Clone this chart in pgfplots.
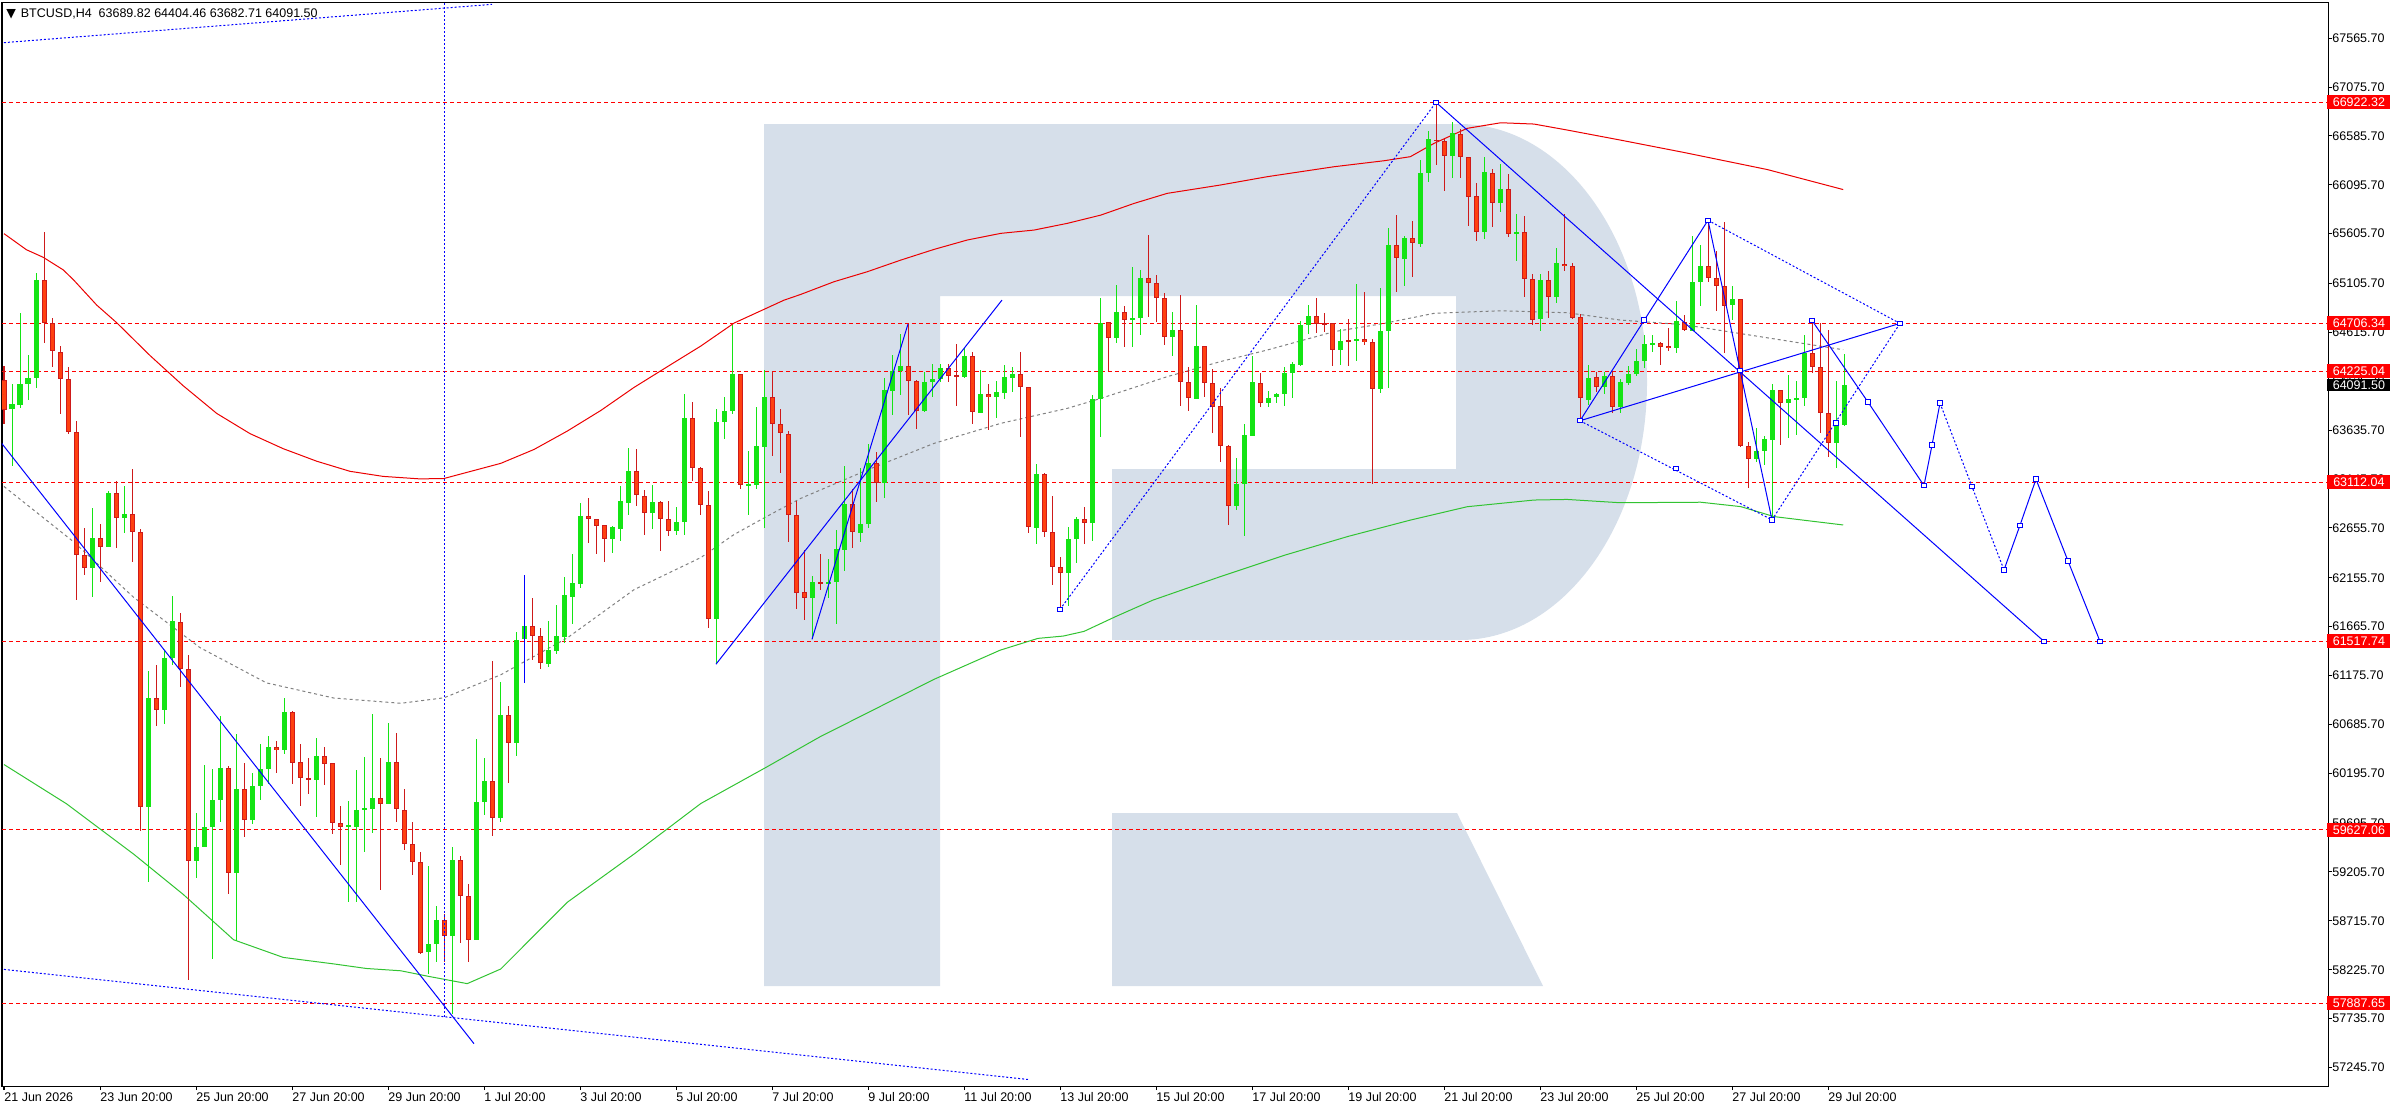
\documentclass[border=0pt]{standalone}
\usepackage{fontspec}
\setmainfont{Liberation Sans}
\newfontfamily\dejavu{DejaVu Sans}
\usepackage{pgfplots}
\usepackage{pgfplotstable}
\pgfplotsset{compat=1.18}
\definecolor{wm}{RGB}{214,223,234}
\definecolor{cred}{RGB}{206,26,26}
\definecolor{credfill}{RGB}{255,64,16}
\definecolor{cgreen}{RGB}{20,228,20}
\definecolor{mared}{RGB}{235,0,0}
\definecolor{magreen}{RGB}{50,195,50}
\definecolor{bl}{RGB}{0,0,255}
\newcommand\tf{\fontsize{6.25pt}{7pt}\selectfont}
\pgfplotsset{candle/.style={only marks, mark=*, mark options={draw=none, fill=none}, mark size=0pt}}

\pgfplotstableread{
i o h l c
0 64142 64283 63702 63839
1 63844 64096 63273 63894
2 63889 64813 63854 64096
3 64101 64394 63940 64157
4 64157 65217 64056 65142
5 65142 65621 64510 64712
6 64712 64763 64268 64425
7 64425 64485 63798 64147
8 64147 64268 63601 63617
9 63617 63728 61935 62389
10 62389 62652 62182 62253
11 62253 62859 61960 62556
12 62556 62692 62112 62465
13 62465 63021 62465 63010
14 63005 63122 62455 62753
15 62753 63071 62607 62793
16 62793 63248 62314 62617
17 62617 62642 59622 59854
18 59854 61218 59107 60950
19 60950 61278 60672 60834
20 60834 61430 60688 61354
21 61354 61970 61278 61718
22 61718 61799 61061 61243
23 61243 61379 58122 59319
24 59319 59799 59142 59460
25 59460 60278 59460 59662
26 59662 60243 58334 59925
27 59925 60773 59703 60253
28 60253 60268 58981 59193
29 59193 60587 58516 60041
30 60041 60294 59561 59723
31 59723 60203 59688 60066
32 60066 60486 59925 60243
33 60243 60571 60092 60460
34 60455 60521 60203 60430
35 60430 60950 60385 60814
36 60814 60824 60092 60304
37 60304 60486 59864 60152
38 60152 60344 59991 60132
39 60132 60546 59763 60369
40 60369 60460 60077 60294
41 60294 60294 59587 59698
42 59698 59864 59274 59662
43 59652 59915 58905 59672
44 59662 60233 58905 59829
45 59829 60354 59410 59849
46 59839 60789 59597 59950
47 59950 60344 59021 59890
48 59890 60698 59890 60304
49 60304 60597 59703 59839
50 59833 60040 59422 59487
51 59487 59708 59178 59307
52 59307 59409 58385 58395
53 58404 59270 58187 58487
54 58487 58865 58302 58726
55 58726 58786 58302 58565
56 58565 59455 57782 59330
57 59330 59362 58496 58962
58 58962 59086 58302 58524
59 58524 60538 58524 59906
60 59906 60344 59777 60123
61 60123 61321 59570 59745
62 59745 61114 59708 60782
63 60782 60874 60100 60501
64 60501 61612 60367 61538
65 61538 61710 61436 61676
66 61676 61957 61335 61575
67 61575 61653 61243 61298
68 61289 61727 61266 61437
69 61427 61888 61390 61575
70 61566 62169 61506 61980
71 61966 62391 61690 62100
72 62091 62902 62050 62773
73 62773 62958 62506 62746
74 62746 62746 62395 62681
75 62681 62690 62312 62547
76 62547 62681 62404 62663
77 62644 63073 62520 62925
78 62907 63455 62782 63225
79 63225 63446 62875 62981
80 62981 63036 62584 62805
81 62805 63087 62644 62912
82 62912 62930 62423 62741
83 62741 62930 62575 62626
84 62626 62865 62584 62718
85 62718 63995 62589 63755
86 63755 63916 63128 63257
87 63257 63266 62787 62888
88 62888 63027 61653 61745
89 61745 63852 61289 63718
90 63718 63967 63548 63824
91 63824 64695 63801 64202
92 64202 64202 63050 63087
93 63087 63432 62787 63096
94 63087 63866 63050 63474
95 63465 64239 62658 63972
96 63972 64225 63372 63695
97 63695 63852 63206 63603
98 63603 63626 62520 62787
99 62787 62925 61842 62008
100 62009 62440 61732 61949
101 61949 62173 61538 62110
102 62110 62394 62033 62090
103 62100 62344 61949 62116
104 62116 62634 61695 62450
105 62440 63276 62227 62895
106 62895 63052 62457 62611
107 62611 63253 62517 62694
108 62691 63493 62658 63303
109 63303 63413 62918 63102
110 63109 64165 62952 64038
111 64031 64389 63787 64232
112 64232 64599 63988 64279
113 64279 64700 63787 64132
114 64128 64145 63644 63831
115 63831 64222 63821 64118
116 64115 64305 63971 64145
117 64145 64305 64121 64255
118 64255 64298 64121 64182
119 64188 64499 63877 64172
120 64172 64462 64155 64379
121 64379 64416 63694 63824
122 63811 64238 63804 63998
123 63994 64098 63637 63971
124 63971 64128 63754 64018
125 64011 64289 63954 64165
126 64162 64265 64014 64198
127 64198 64419 63563 64065
128 64065 64071 62607 62661
129 62661 63296 62491 63202
130 63202 63209 62561 62618
131 62618 62975 62089 62267
132 62267 62360 61839 62200
133 62200 62668 61876 62541
134 62541 62768 62307 62741
135 62741 62862 62491 62708
136 62708 63988 62527 63954
137 63954 64964 63570 64716
138 64716 64723 64228 64563
139 64563 65087 64506 64817
140 64817 64880 64472 64740
141 64740 65268 64472 64756
142 64756 65241 64589 65158
143 65158 65592 64773 65107
144 65117 65191 64723 64957
145 64957 65007 64489 64573
146 64573 64823 64382 64640
147 64640 64990 63881 64115
148 64115 64265 63831 63954
149 63954 64890 63954 64479
150 64479 64479 63971 64105
151 64105 64245 63603 63867
152 63877 64054 63313 63480
153 63480 63486 62680 62878
154 62878 63359 62835 63095
155 63095 63697 62570 63587
156 63580 64379 63580 64115
157 64105 64205 63871 63904
158 63904 64028 63871 63964
159 63964 64004 63911 63994
160 63994 64272 63881 64205
161 64205 64315 63954 64299
162 64295 64730 64279 64690
163 64690 64897 64606 64783
164 64783 64957 64606 64706
165 64706 64807 64623 64700
166 64706 64713 64279 64439
167 64439 64656 64289 64529
168 64536 64750 64279 64529
169 64529 65101 64332 64546
170 64546 65017 64489 64523
171 64523 64556 63095 64045
172 64045 65057 64005 64630
173 64630 65659 64061 65498
174 65498 65793 65024 65358
175 65358 65582 65084 65559
176 65559 65732 65168 65508
177 65508 66344 65475 66220
178 66210 66635 66127 66551
179 66551 66922 66294 66535
180 66535 66558 66037 66388
181 66388 66725 66167 66611
182 66611 66652 66167 66371
183 66371 66371 65686 65976
184 65983 66110 65535 65626
185 65626 66371 65549 66220
186 66220 66260 65676 65910
187 65910 66301 65826 66053
188 66053 66200 65575 65599
189 65609 65809 65331 65619
190 65619 65783 64974 65157
191 65157 65208 64696 64746
192 64746 65198 64633 65141
193 65141 65231 64756 64967
194 64967 65458 64914 65308
195 65308 65803 65234 65285
196 65285 65315 64756 64763
197 64773 64797 63730 63954
198 63944 64289 63887 64165
199 64165 64222 64021 64064
200 64067 64225 64000 64181
201 64181 64225 63806 63867
202 63867 64148 63813 64121
203 64114 64275 64091 64201
204 64201 64452 64184 64328
205 64328 64593 64258 64502
206 64495 64593 64419 64509
207 64516 64516 64285 64475
208 64482 64659 64425 64459
209 64459 64927 64409 64726
210 64726 64793 64626 64636
211 64636 65580 64636 65121
212 65121 65496 64884 65285
213 65285 65740 65118 65161
214 65161 65429 64827 65078
215 65078 65720 64409 64887
216 64887 65084 64743 64951
217 64951 64951 63465 63478
218 63482 63522 63053 63345
219 63345 63656 63314 63428
220 63428 63582 63288 63545
221 63539 64101 62736 64040
222 64040 64040 63488 63907
223 63907 64191 63555 63947
224 63947 64134 63589 63957
225 63957 64586 63880 64415
226 64415 64736 64208 64265
227 64268 64710 63612 63806
228 63806 64643 63371 63512
229 63512 64134 63261 63689.82
230 63689.82 64404.46 63682.71 64091.50
}\candles

\begin{document}
\begin{tikzpicture}
\path[use as bounding box] (0,0) rectangle (1198pt,-555pt);
\begin{scope}[x=0.5pt,y=-0.5pt]
\fill[wm] (764,124) -- (1460,124) arc[start angle=90,end angle=-90,x radius=93.5pt,y radius=129pt]
  -- (1112,640) -- (1112,469) -- (1456,469) -- (1456,296) -- (940,296) -- (940,986) -- (764,986) -- cycle;
\fill[wm] (1112,813) -- (1457,813) -- (1543,986) -- (1112,986) -- cycle;
\node[anchor=base west, inner sep=0pt, font=\tf\dejavu] at (6,17.5) {▼};
\node[anchor=base west, inner sep=0pt, font=\tf] at (20.5,17.5) {BTCUSD,H4\ \ 63689.82 64404.46 63682.71 64091.50};
\end{scope}

\begin{axis}[
  at={(1pt,-1.25pt)}, anchor=north west,
  scale only axis, width=1163pt, height=541.75pt,
  xmin=-0.25, xmax=290.5, ymin=57059.4, ymax=67923.7,
  axis line style={black, line width=0.5pt},
  tick style={black, line width=0.5pt},
  major tick length=2pt, tick align=outside,
  xtick pos=left, ytick pos=right, xticklabel pos=left, yticklabel pos=right,
  scaled y ticks=false, scaled x ticks=false,
  xtick={0,12,...,228},
  xticklabels={21 Jun 2026,23 Jun 20:00,25 Jun 20:00,27 Jun 20:00,29 Jun 20:00,1 Jul 20:00,3 Jul 20:00,5 Jul 20:00,7 Jul 20:00,9 Jul 20:00,11 Jul 20:00,13 Jul 20:00,15 Jul 20:00,17 Jul 20:00,19 Jul 20:00,21 Jul 20:00,23 Jul 20:00,25 Jul 20:00,27 Jul 20:00,29 Jul 20:00},
  ytick={57245.7,57735.7,58225.7,58715.7,59205.7,59695.7,60195.7,60685.7,61175.7,61665.7,62155.7,62655.7,63145.7,63635.7,64125.7,64615.7,65105.7,65605.7,66095.7,66585.7,67075.7,67565.7},
  yticklabels={57245.70,57735.70,58225.70,58715.70,59205.70,59695.70,60195.70,60685.70,61175.70,61665.70,62155.70,62655.70,63145.70,63635.70,64125.70,64615.70,65105.70,65605.70,66095.70,66585.70,67075.70,67565.70},
  xticklabel style={anchor=north west, inner sep=0pt, yshift=-1pt, font=\tf},
  yticklabel style={anchor=west, inner sep=0pt, font=\tf},
  clip=true,
]
% horizontal levels
\pgfplotsinvokeforeach{66922.32,64706.34,64225.04,63112.04,61517.74,59627.06,57887.65}{
  \addplot[red, line width=0.5pt, dash pattern=on 2pt off 1.5pt] coordinates {(-0.25,#1) (290.5,#1)};
}
% moving averages
\addplot[mared, line width=0.5pt] coordinates {(0,65606)(2.8,65445)(4.9,65369)(7.4,65243)(8.7,65142)(11.6,64889)(14.1,64712)(18.25,64384)(22.4,64081)(26.6,63803)(30.75,63601)(34.9,63450)(39.1,63324)(43.25,63223)(47.4,63172)(52,63147)(55,63151)(62.1,63303)(66.25,63442)(70.4,63626)(74.6,63833)(78.75,64064)(82.9,64271)(87.1,64479)(91.25,64709)(97.5,64939)(99.6,64997)(103.75,65124)(107.9,65224)(112.1,65341)(116.25,65448)(120.4,65542)(124.6,65609)(128.75,65642)(132.9,65709)(137.1,65792)(141.25,65909)(145.4,66010)(152,66093)(157.9,66177)(166.25,66277)(172.5,66337)(175.8,66378)(178.75,66511)(182.9,66662)(187.1,66718)(191.25,66705)(195.4,66645)(202,66545)(210,66420)(220.4,66249)(229.9,66048)};
\addplot[gray, line width=0.5pt, dash pattern=on 1.5pt off 1.5pt] coordinates {(0,63071)(8.7,62516)(16.2,61960)(24.5,61455)(32.8,61102)(41.2,60950)(49.6,60897)(55,60952)(62.1,61183)(70.4,61552)(78.75,62036)(87.1,62358)(91.25,62589)(95.4,62773)(99.6,62952)(107.9,63236)(116.25,63503)(124.6,63704)(132.9,63854)(137.1,63954)(145.4,64172)(152,64322)(157.9,64439)(166.25,64623)(172.5,64706)(178.75,64807)(187.1,64833)(195.4,64813)(202,64740)(210,64693)(224.6,64509)(229.9,64442)};
\addplot[magreen, line width=0.5pt] coordinates {(0,60283)(7.8,59890)(16.2,59385)(22.4,58981)(28.7,58526)(34.9,58349)(41.2,58284)(45.3,58238)(49.6,58215)(53,58160)(57.9,58086)(62.1,58233)(70.4,58901)(78.75,59385)(87.1,59892)(95.4,60261)(102,60561)(116.25,61137)(124.5,61429)(129.25,61548)(132.4,61571)(135,61618)(139,61768)(143.6,61931)(152,62166)(160,62380)(168,62570)(175.8,62734)(182.9,62868)(191.25,62935)(195.4,62941)(202,62908)(212.1,62913)(217.1,62869)(221.25,62769)(229.9,62685)};
% candles: wicks
\addplot[candle, restrict expr to domain={\thisrow{c}-\thisrow{o}}{-100000:-0.001},
  error bars/.cd, y dir=both, y explicit, error mark=none, error bar style={draw=cred, line width=0.5pt}]
  table[x=i, y expr={(\thisrow{h}+\thisrow{l})/2}, y error expr={(\thisrow{h}-\thisrow{l})/2}] {\candles};
\addplot[candle, restrict expr to domain={\thisrow{c}-\thisrow{o}}{0:100000},
  error bars/.cd, y dir=both, y explicit, error mark=none, error bar style={draw=cgreen, line width=0.5pt}]
  table[x=i, y expr={(\thisrow{h}+\thisrow{l})/2}, y error expr={(\thisrow{h}-\thisrow{l})/2}] {\candles};
% candles: bodies
\addplot[candle, restrict expr to domain={\thisrow{c}-\thisrow{o}}{-100000:-0.001},
  error bars/.cd, y dir=both, y explicit, error mark=none, error bar style={draw=cred, line width=2.5pt}]
  table[x=i, y expr={(\thisrow{o}+\thisrow{c})/2}, y error expr={max(abs(\thisrow{o}-\thisrow{c})/2,6)}] {\candles};
\addplot[candle, restrict expr to domain={\thisrow{c}-\thisrow{o}}{-100000:-0.001},
  error bars/.cd, y dir=both, y explicit, error mark=none, error bar style={draw=credfill, line width=1.5pt}]
  table[x=i, y expr={(\thisrow{o}+\thisrow{c})/2}, y error expr={max(abs(\thisrow{o}-\thisrow{c})/2-10,0)}] {\candles};
\addplot[candle, restrict expr to domain={\thisrow{c}-\thisrow{o}}{0:100000},
  error bars/.cd, y dir=both, y explicit, error mark=none, error bar style={draw=cgreen, line width=2.5pt}]
  table[x=i, y expr={(\thisrow{o}+\thisrow{c})/2}, y error expr={max(abs(\thisrow{o}-\thisrow{c})/2,6)}] {\candles};
% blue analysis lines
\addplot[bl, line width=0.5pt, dash pattern=on 1pt off 1pt] coordinates {(-0.5,67518) (61,67905)};
\addplot[bl, line width=0.5pt, dash pattern=on 1pt off 1pt] coordinates {(-0.5,58233) (128,57125)};
\addplot[bl, line width=0.5pt, dash pattern=on 1pt off 1pt] coordinates {(55,57754) (55,67924)};
\addplot[bl, line width=0.5pt] coordinates {(-0.5,63525) (58.75,57484)};
\addplot[bl, line width=0.5pt] coordinates {(89,61289) (124.75,64940)};
\addplot[bl, line width=0.5pt] coordinates {(101,61538) (113,64700)};
\addplot[bl, line width=0.5pt] coordinates {(65,61105) (65,62188)};
\addplot[bl, line width=0.5pt, dash pattern=on 1pt off 1pt] coordinates {(132,61839) (179,66922.32)};
\addplot[bl, line width=0.5pt] coordinates {(179,66922.32) (255,61517.74)};
\addplot[bl, line width=0.5pt] coordinates {(197,63730) (213,65740)};
\addplot[bl, line width=0.5pt] coordinates {(197,63730) (237,64706.34)};
\addplot[bl, line width=0.5pt, dash pattern=on 1pt off 1pt] coordinates {(197,63730) (221,62736)};
\addplot[bl, line width=0.5pt, dash pattern=on 1pt off 1pt] coordinates {(213,65740) (237,64706.34)};
\addplot[bl, line width=0.5pt] coordinates {(213,65740) (221,62736)};
\addplot[bl, line width=0.5pt, dash pattern=on 1pt off 1pt] coordinates {(221,62736) (237,64706.34)};
\addplot[bl, line width=0.5pt] coordinates {(226,64736) (233,63917) (240,63080) (241,63485) (242,63907)};
\addplot[bl, line width=0.5pt, dash pattern=on 1pt off 1pt] coordinates {(242,63907) (246,63070) (250,62234)};
\addplot[bl, line width=0.5pt] coordinates {(250,62234) (252,62682) (254,63144) (258,62324) (262,61517.74)};
\addplot[only marks, mark=square*, mark size=1.1pt, mark options={draw=bl, fill=white, line width=0.5pt}]
  coordinates {(179,66922.32)(197,63730)(205,64742)(213,65740)(217,64231)(221,62736)(226,64736)(237,64706.34)(233,63917)(240,63080)(241,63485)(242,63907)(246,63070)(250,62234)(252,62682)(254,63144)(258,62324)(262,61517.74)(255,61517.74)(229,63706)(132,61839)(209,63254)};
\coordinate (P1) at (axis cs:290.5,66922.32);
\coordinate (P2) at (axis cs:290.5,64706.34);
\coordinate (P3) at (axis cs:290.5,64225.04);
\coordinate (P4) at (axis cs:290.5,63112.04);
\coordinate (P5) at (axis cs:290.5,61517.74);
\coordinate (P6) at (axis cs:290.5,59627.06);
\coordinate (P7) at (axis cs:290.5,57887.65);
\coordinate (PB) at (axis cs:290.5,64091.50);
\end{axis}
\tikzset{pl/.style={fill=red, text=white, font=\tf, anchor=west, minimum width=31.5pt, minimum height=7pt, inner sep=0pt}}
\node[pl] at ([xshift=-0.5pt]P1) {66922.32};
\node[pl] at ([xshift=-0.5pt]P2) {64706.34};
\node[pl] at ([xshift=-0.5pt]P3) {64225.04};
\node[pl] at ([xshift=-0.5pt]P4) {63112.04};
\node[pl] at ([xshift=-0.5pt]P5) {61517.74};
\node[pl] at ([xshift=-0.5pt]P6) {59627.06};
\node[pl] at ([xshift=-0.5pt]P7) {57887.65};
\node[pl, fill=black, minimum height=6pt] at ([xshift=-0.5pt]PB) {64091.50};
\end{tikzpicture}
\end{document}
